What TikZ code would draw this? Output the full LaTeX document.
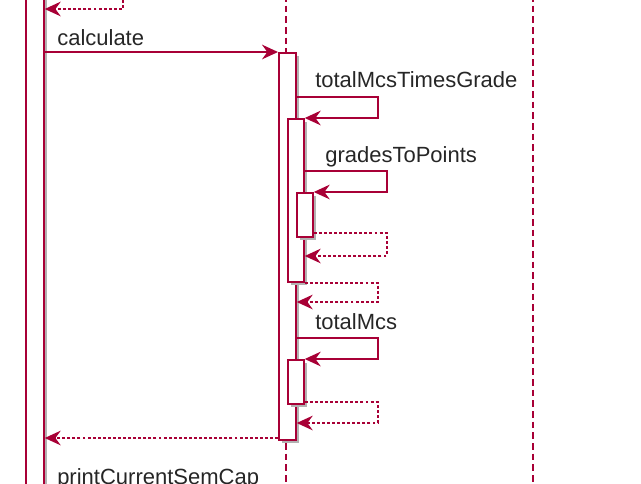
\documentclass[tikz,border=0pt]{standalone}
\usepackage{fontspec}
\setmainfont{Liberation Sans}
\usetikzlibrary{arrows.meta}
\definecolor{umlred}{RGB}{168,0,54}
\tikzstyle{bar} = [rectangle, anchor=north west, inner sep=0, minimum width=12pt, preaction={fill=black!30, draw=none, transform canvas={shift={(2.2pt,-2.2pt)}}}, draw=umlred, fill=white, line width=1.3pt]
\tikzstyle{lifeline} = [draw=umlred, line width=1.2pt, dash pattern=on 5pt off 3pt]
\tikzstyle{msg} = [->, color=umlred, line width=1.2pt]
\tikzstyle{ret} = [->, color=umlred, line width=1.2pt, dash pattern=on 2.2pt off 1.6pt]
\tikzstyle{lbl} = [anchor=base west, inner sep=0, text=black!85, font=\fontsize{16.5}{20}\selectfont]

\begin{document}
\begin{tikzpicture}[x=0.75pt, y=-0.75pt, >={Stealth[length=12pt,width=11pt,inset=4pt]}]
  \useasboundingbox (0,0) rectangle (641,483);
  % lifelines
  \coordinate (midTop) at (286,-5);
  \coordinate (midEnd) at (286,490);
  \coordinate (rightTop) at (533,-5);
  \coordinate (rightEnd) at (533,490);
  \draw [lifeline] (midTop) -- (midEnd);
  \draw [lifeline] (rightTop) -- (rightEnd);

  % activations
  \node [bar, minimum width=13.5pt, minimum height=380pt] (ui) at (25,-10) {};
  \node [bar, minimum width=12.75pt, minimum height=290.25pt] (logic) at (278,52) {};
  \node [bar, minimum height=122.25pt] (mcsGrade) at (287,118) {};
  \node [bar, minimum height=33pt] (toPoints) at (296,192) {};
  \node [bar, minimum height=33pt] (mcs) at (287,359) {};

  % earlier return
  \coordinate (prevRet) at (123,-5);
  \draw [ret] (prevRet) |- (ui.east |- 0,9);

  \node [lbl] (calcLbl) at (57,45) {calculate};
  \draw [msg] (ui.east |- logic.north) -- (logic.north west);

  \node [lbl] (gradeLbl) at (315,87) {totalMcsTimesGrade};
  \draw [msg] (logic.east |- 0,97) -- ++(81,0) |- (mcsGrade.north east);

  \node [lbl] (pointsLbl) at (325,162) {gradesToPoints};
  \draw [msg] (mcsGrade.east |- 0,171) -- ++(82,0) |- (toPoints.north east);
  \draw [ret] (toPoints.east |- 0,233) -- ++(73,0) |- (mcsGrade.east |- 0,256);
  \draw [ret] (mcsGrade.south east) -- ++(73,0) |- (logic.east |- 0,302);

  \node [lbl] (mcsLbl) at (315,329) {totalMcs};
  \draw [msg] (logic.east |- 0,338) -- ++(81,0) |- (mcs.north east);
  \draw [ret] (mcs.east |- 0,402) -- ++(73,0) |- (logic.east |- 0,423);

  \draw [ret] (logic.west |- 0,438) -- (ui.east |- 0,438);
  \node [lbl] (printLbl) at (57,484) {printCurrentSemCap};
\end{tikzpicture}
\end{document}
